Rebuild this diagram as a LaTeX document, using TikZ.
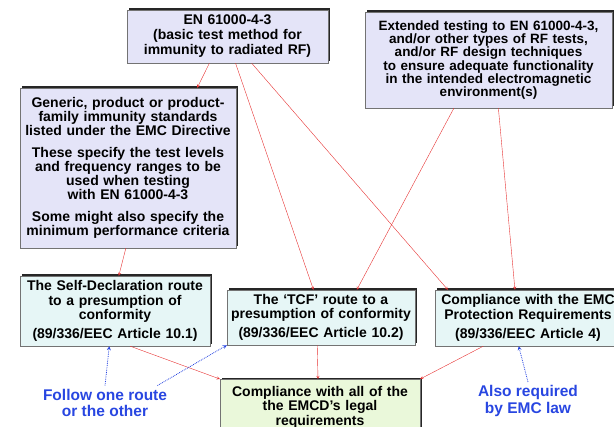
\documentclass[tikz,border=0pt]{standalone}
\usepackage{fontspec}
\setmainfont{Liberation Sans}
\usetikzlibrary{calc,shadows}

\definecolor{lavender}{RGB}{228,228,248}
\definecolor{paleblue}{RGB}{230,246,246}
\definecolor{palegreen}{RGB}{234,248,218}
\definecolor{routered}{RGB}{230,50,50}
\definecolor{noteblue}{RGB}{40,70,225}

\tikzset{
  box/.style={draw=black!55, fill=#1, align=center, inner xsep=1pt, inner ysep=0pt,
    font=\fontsize{14}{14.5}\selectfont\bfseries,
    general shadow={fill=black!85, shadow xshift=1.6pt, shadow yshift=1.6pt}},
  link/.style={routered, ->, >=stealth},
  hint/.style={noteblue, densely dotted, thick, ->, >=stealth},
  note/.style={noteblue, align=center, font=\fontsize{15.5}{16.5}\selectfont\bfseries}
}

\begin{document}
\begin{tikzpicture}[x=1pt, y=-1pt]
  \useasboundingbox (0,0) rectangle (614,427);
  \clip (0,0) rectangle (614,427);

  % Top row: the basic test method and the extra testing
  \node[box=lavender, text width=199pt, minimum height=53pt,
        font=\fontsize{14}{15}\selectfont\bfseries] (en) at (227.5,36.5)
    {EN 61000-4-3\\(basic test method for\\immunity to radiated RF)};
  \node[box=lavender, text width=245pt, minimum height=96pt,
        font=\fontsize{13.5}{13.3}\selectfont\bfseries] (extended) at (488.5,60)
    {Extended testing to EN 61000-4-3,\\and/or other types of RF tests,\\
     and/or RF design techniques\\to ensure adequate functionality\\
     in the intended electromagnetic\\environment(s)};

  % The harmonised standards
  \node[box=lavender, text width=214pt, minimum height=160pt,
        font=\fontsize{14}{14}\selectfont\bfseries] (generic) at (128,168)
    {Generic, product or product-\\family immunity standards\\listed under the EMC Directive\\[8pt]
     These specify the test levels\\and frequency ranges to be\\used when testing\\with EN 61000-4-3\\[8pt]
     Some might also specify the\\minimum performance criteria};

  % The routes
  \node[box=paleblue, text width=188pt, minimum height=70pt] (selfdecl) at (115,311)
    {The Self-Declaration route\\to a presumption of\\conformity\\[4.5pt](89/336/EEC Article 10.1)};
  \node[box=paleblue, text width=186pt, minimum height=55pt] (tcf) at (321,317.5)
    {The ‘TCF’ route to a\\presumption of conformity\\[4.5pt](89/336/EEC Article 10.2)};
  \node[box=paleblue, text width=184pt, minimum height=56pt] (protect) at (528,318)
    {Compliance with the EMC\\Protection Requirements\\[4.5pt](89/336/EEC Article 4)};

  % The final result
  \node[box=palegreen, text width=198pt, minimum height=56pt, anchor=north] (legal) at (320,379)
    {Compliance with all of the\\the EMCD’s legal\\requirements};

  % Notes
  \node[note] (follow) at (105,403) {Follow one route\\or the other};
  \node[note] (alsoreq) at (528,401) {Also required\\by EMC law};

  % Red links
  \draw[link] ($(en.south west)!.41!(en.south east)$) -- ($(generic.north west)!.82!(generic.north east)$);
  \draw[link] ($(en.south west)!.54!(en.south east)$) -- ($(tcf.north west)!.46!(tcf.north east)$);
  \draw[link] ($(en.south west)!.62!(en.south east)$) -- ($(protect.north west)!.07!(protect.north east)$);
  \draw[link] ($(extended.south west)!.36!(extended.south east)$) -- ($(tcf.north west)!.69!(tcf.north east)$);
  \draw[link] ($(extended.south west)!.54!(extended.south east)$) -- ($(protect.north west)!.43!(protect.north east)$);
  \draw[link] ($(generic.south west)!.49!(generic.south east)$) -- ($(selfdecl.north west)!.52!(selfdecl.north east)$);
  \draw[link] ($(selfdecl.south west)!.58!(selfdecl.south east)$) -- (legal.north west);
  \draw[link] ($(tcf.south west)!.48!(tcf.south east)$) -- ($(legal.north west)!.49!(legal.north east)$);
  \draw[link] ($(protect.south west)!.26!(protect.south east)$) -- (legal.north east);

  % Blue hints
  \draw[hint] (follow.north) -- ($(selfdecl.south west)!.47!(selfdecl.south east)$);
  \draw[hint] ($(follow.north west)!.9!(follow.north east)$) -- (tcf.south west);
  \draw[hint] (alsoreq.north) -- ($(protect.south west)!.45!(protect.south east)$);
\end{tikzpicture}
\end{document}
